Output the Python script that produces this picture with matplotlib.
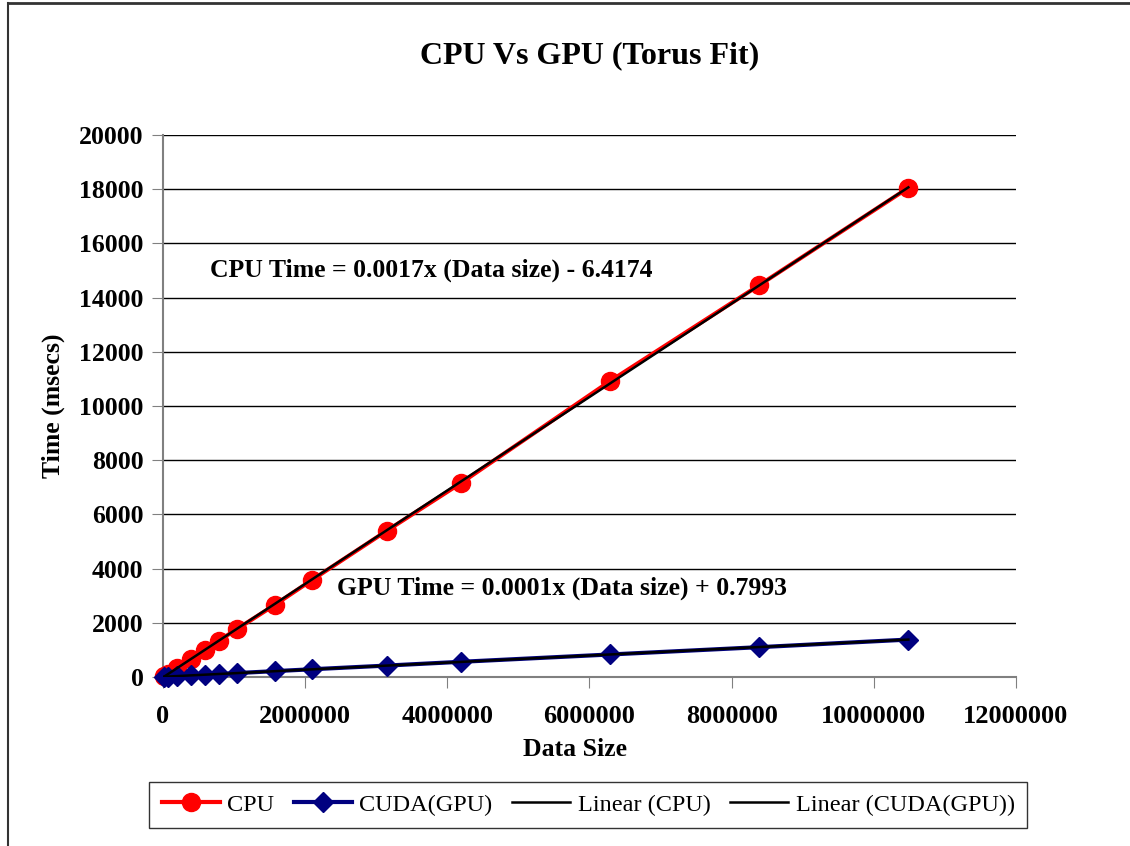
import numpy as np
import matplotlib.pyplot as plt
from matplotlib.lines import Line2D

plt.rcParams['font.family'] = ['Liberation Serif', 'DejaVu Serif']

# Data
data_size = [16384, 65536, 196608, 393216, 589824, 786432, 1048576, 1572864,
             2097152, 3145728, 4194304, 6291456, 8388608, 10485760]
cpu_time = [25, 110, 340, 680, 1010, 1340, 1780, 2660,
            3580, 5390, 7160, 10920, 14460, 18050]
gpu_time = [5, 12, 30, 60, 85, 110, 145, 215,
            285, 420, 560, 830, 1100, 1380]

x_ticks = [0, 2000000, 4000000, 6000000, 8000000, 10000000, 12000000]
y_ticks = [0, 2000, 4000, 6000, 8000, 10000, 12000, 14000, 16000, 18000, 20000]

fig = plt.figure(figsize=(11.3, 8.46), dpi=100)
ax = fig.add_axes([0.1442, 0.1998, 0.7549, 0.6406])

x = np.array(data_size, dtype=float)
cpu = np.array(cpu_time, dtype=float)
gpu = np.array(gpu_time, dtype=float)

ax.plot(x, cpu, color='#ff0000', lw=3, marker='o', ms=13, label='CPU', zorder=3, clip_on=False)
ax.plot(x, gpu, color='#000080', lw=3, marker='D', ms=10, label='CUDA(GPU)', zorder=3, clip_on=False)

# linear trendlines
pc = np.polyfit(x, cpu, 1)
pg = np.polyfit(x, gpu, 1)
xr = np.array([x.min(), x.max()])
ax.plot(xr, np.polyval(pc, xr), color='black', lw=1.8, label='Linear (CPU)', zorder=4)
ax.plot(xr, np.polyval(pg, xr), color='black', lw=1.8, label='Linear (CUDA(GPU))', zorder=4)

ax.set_xlim(0, 12000000)
ax.set_ylim(0, 20000)
ax.set_xticks(x_ticks)
ax.set_yticks(y_ticks)
ax.set_xticklabels([str(v) for v in x_ticks], fontsize=19, fontweight='bold')
ax.set_yticklabels([str(v) for v in y_ticks], fontsize=18.5, fontweight='bold')
ax.tick_params(axis='x', direction='out', length=8, color='#808080', pad=12)
ax.tick_params(axis='y', direction='out', length=8, color='#808080', pad=6)
ax.grid(axis='y', color='black', lw=1)
ax.set_axisbelow(True)
for s in ['top', 'right']:
    ax.spines[s].set_visible(False)
for s in ['left', 'bottom']:
    ax.spines[s].set_color('#808080')
    ax.spines[s].set_linewidth(1.5)

ax.set_xlabel('Data Size', fontsize=18.5, fontweight='bold')
ax.xaxis.set_label_coords(0.483, -0.112)
ax.set_ylabel('Time (msecs)', fontsize=18.5, fontweight='bold')
ax.yaxis.set_label_coords(-0.115, 0.5)
ax.set_title('CPU Vs GPU (Torus Fit)', fontsize=23, fontweight='bold', pad=52)

ax.text(661000, 15000, 'CPU Time = 0.0017x (Data size) - 6.4174',
        fontsize=18.5, fontweight='bold', va='center', ha='left')
ax.text(2448000, 3290, 'GPU Time = 0.0001x (Data size) + 0.7993',
        fontsize=18.5, fontweight='bold', va='center', ha='left')

leg = fig.legend(loc='center', bbox_to_anchor=(0.5205, 0.0485), ncol=4,
                 fontsize=17.5, frameon=True, fancybox=False, handlelength=2.4,
                 columnspacing=0.8, handletextpad=0.3, borderpad=0.5)
leg.get_frame().set_edgecolor('black')
leg.get_frame().set_linewidth(1)

# chart area border (top and left)
fig.add_artist(Line2D([8 / 1130, 1], [1 - 3 / 846, 1 - 3 / 846], color='#333333', lw=2,
                      transform=fig.transFigure))
fig.add_artist(Line2D([8 / 1130, 8 / 1130], [0, 1 - 3 / 846], color='#333333', lw=1.5,
                      transform=fig.transFigure))

fig.savefig('out.png', dpi=100)
